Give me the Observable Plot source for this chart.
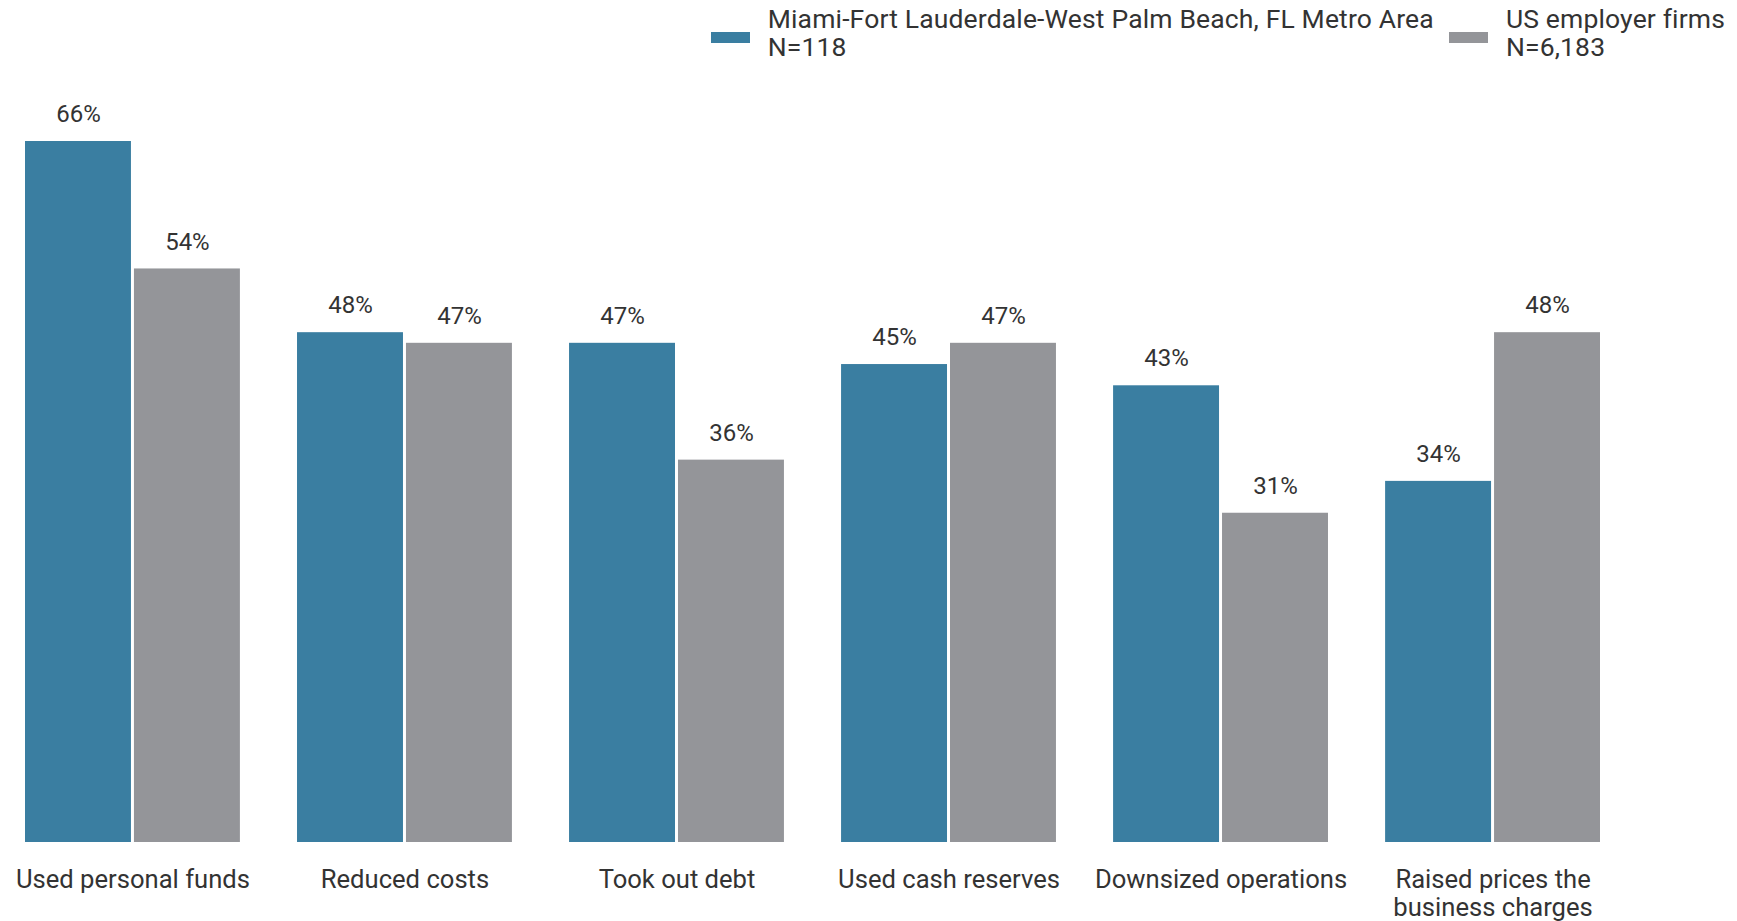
<!DOCTYPE html>
<html>
<head>
<meta charset="utf-8">
<script src="https://cdn.jsdelivr.net/npm/d3@7"></script>
<script src="https://cdn.jsdelivr.net/npm/@observablehq/plot@0.6"></script>
<style>
  body { margin: 0; background: #fff; font-family: Roboto, "Noto Sans", sans-serif; color: #333; }
  #legend { height: 62px; display: flex; justify-content: flex-end; align-items: flex-start; padding-right: 12px; box-sizing: border-box; padding-top: 5px; }
  .item { display: flex; align-items: center; margin-left: 15px; }
  .sw { width: 39px; height: 11px; margin-right: 18px; margin-top: 9px; }
  .txt { font-size: 26.5px; line-height: 28px; letter-spacing: 0.15px; color: #333; white-space: nowrap; }
</style>
</head>
<body>
<div id="legend"></div>
<div id="chart"></div>
<script>
const categories = ["Used personal funds", "Reduced costs", "Took out debt", "Used cash reserves", "Downsized operations", "Raised prices the\nbusiness charges"];
const seriesNames = ["Miami-Fort Lauderdale-West Palm Beach, FL Metro Area", "US employer firms"];
const seriesN = ["N=118", "N=6,183"];
const miamiValues = [66, 48, 47, 45, 43, 34];
const usValues = [54, 47, 36, 47, 31, 48];
const colors = ["#3a7ea1", "#949599"];

const data = [];
categories.forEach((c, i) => {
  data.push({category: c, series: seriesNames[0], value: miamiValues[i]});
  data.push({category: c, series: seriesNames[1], value: usValues[i]});
});

const legend = document.getElementById("legend");
seriesNames.forEach((s, i) => {
  const item = document.createElement("div");
  item.className = "item";
  item.innerHTML = `<div class="sw" style="background:${colors[i]}"></div><div class="txt">${s}<br>${seriesN[i]}</div>`;
  legend.appendChild(item);
});

const chart = Plot.plot({
  width: 1737,
  height: 859,
  marginLeft: 25,
  marginRight: 137,
  marginTop: 79,
  marginBottom: 79,
  style: {fontFamily: "Roboto, 'Noto Sans', sans-serif", color: "#333", background: "#fff"},
  fx: {domain: categories, paddingInner: 0.21, paddingOuter: 0, round: false, label: null},
  x: {domain: seriesNames, paddingInner: 0.0275, paddingOuter: 0, round: false, axis: null},
  y: {domain: [0, 66], axis: null},
  color: {domain: seriesNames, range: colors},
  marks: [
    Plot.barY(data, {fx: "category", x: "series", y: "value", fill: "series"}),
    Plot.text(data, {fx: "category", x: "series", y: "value", text: d => d.value + "%", dy: -27, fontSize: 24, fill: "#333"}),
    Plot.axisFx({anchor: "bottom", tickSize: 0, tickPadding: 26, fontSize: 25.6, label: null, lineHeight: 1.08, fill: "#333"})
  ]
});
document.getElementById("chart").appendChild(chart);
</script>
</body>
</html>
